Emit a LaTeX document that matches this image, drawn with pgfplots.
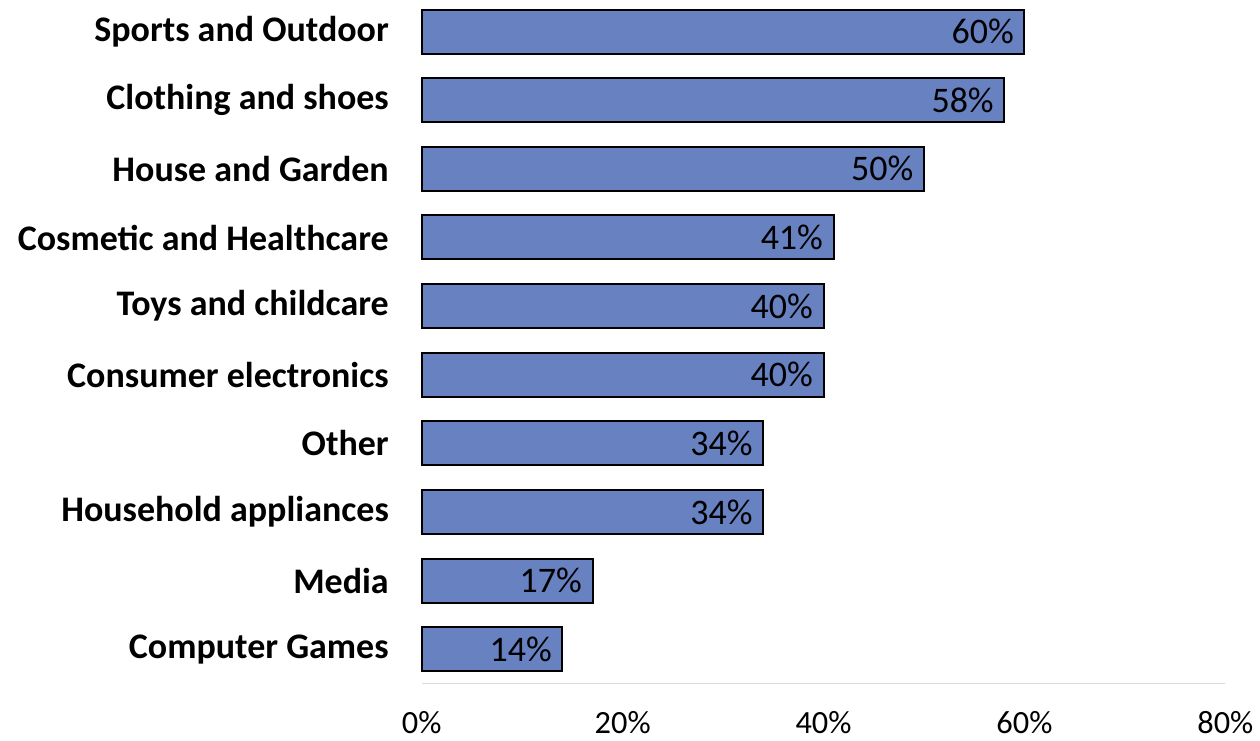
\documentclass[border=0pt]{standalone}
\usepackage{pgfplots}
\pgfplotsset{compat=1.18}
\usepackage{fontspec}
\setmainfont{Carlito}
\definecolor{barblue}{RGB}{103,129,193}
\definecolor{axisgray}{RGB}{217,217,217}
\begin{document}
\begin{tikzpicture}
\begin{axis}[
  at={(0pt,0pt)}, anchor=south west,
  width=402pt, height=342pt, scale only axis,
  xbar, bar width=22pt,
  xmin=0, xmax=80, ymin=-0.5, ymax=9.46,
  xtick={0,20,40,60,80},
  xticklabel={\pgfmathprintnumber{\tick}\%},
  /pgf/number format/assume math mode=true,
  ytick={0,...,9},
  yticklabels={Computer Games,Media,Household appliances,Other,Consumer electronics,Toys and childcare,Cosmetic and Healthcare,House and Garden,Clothing and shoes,Sports and Outdoor},
  axis lines*=left,
  x axis line style={draw=axisgray, line width=0.8pt},
  y axis line style={draw=none},
  major tick length=0pt,
  xticklabel style={font=\fontsize{16.2}{19}\selectfont, anchor=north, yshift=-10.5pt},
  yticklabel style={font=\fontsize{18}{21}\selectfont\bfseries, anchor=east, xshift=-13pt},
  nodes near coords={\pgfmathprintnumber{\pgfplotspointmeta}\%},
  nodes near coords style={font=\fontsize{18}{21}\selectfont, anchor=east, xshift=-1.5pt},
  clip=false,
]
\addplot[fill=barblue, draw=black, line width=1pt] coordinates {
  (14,0) (17,1) (34,2) (34,3) (40,4) (40,5) (41,6) (50,7) (58,8) (60,9)
};
\end{axis}
\useasboundingbox (-211pt,-27.5pt) rectangle (419pt,341pt);
\end{tikzpicture}
\end{document}
